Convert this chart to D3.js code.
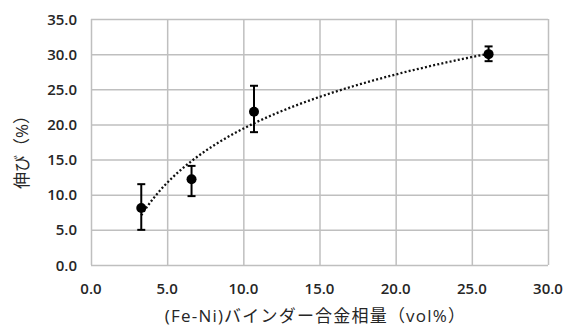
<!DOCTYPE html>
<html>
<head>
<meta charset="utf-8">
<script src="https://cdn.jsdelivr.net/npm/d3@7"></script>
<style>
  body { margin: 0; background: #fff; }
  svg text { font-family: "Open Sans", "Noto Sans CJK JP", sans-serif; fill: #262626; }
  .grid line { stroke: #bfbfbf; stroke-width: 1.5; }
  .grid path { display: none; }
</style>
</head>
<body>
<div id="chart"></div>
<script>
// binder content (vol%) vs elongation (%)
var binderVol = [3.3, 6.6, 10.7, 26.1];
var elongation = [8.1, 12.2, 21.8, 30.0];
var errLow = [5.0, 9.8, 18.9, 29.0];
var errHigh = [11.5, 14.1, 25.5, 31.1];
var xTicks = [0, 5, 10, 15, 20, 25, 30];
var yTicks = [0, 5, 10, 15, 20, 25, 30, 35];

var width = 575, height = 329;
var margin = {top: 19, right: 27, bottom: 64, left: 91};

var svg = d3.select('#chart').append('svg')
    .attr('width', width)
    .attr('height', height);

var x = d3.scaleLinear().domain([0, 30]).range([margin.left, width - margin.right]);
var y = d3.scaleLinear().domain([0, 35]).range([height - margin.bottom, margin.top]);

// gridlines
svg.append('g')
    .attr('class', 'grid')
    .attr('transform', 'translate(0,' + (height - margin.bottom) + ')')
    .call(d3.axisBottom(x).tickValues(xTicks).tickSize(-(height - margin.top - margin.bottom)).tickFormat(''));
svg.append('g')
    .attr('class', 'grid')
    .attr('transform', 'translate(' + margin.left + ',0)')
    .call(d3.axisLeft(y).tickValues(yTicks).tickSize(-(width - margin.left - margin.right)).tickFormat(''));

// tick labels
var fmt = d3.format('.1f');
svg.append('g').selectAll('text')
    .data(xTicks)
  .enter().append('text')
    .attr('x', function(d) { return x(d); })
    .attr('y', height - margin.bottom + 29)
    .attr('text-anchor', 'middle')
    .style('font-size', '15px')
    .style('font-weight', 600)
    .text(fmt);
svg.append('g').selectAll('text')
    .data(yTicks)
  .enter().append('text')
    .attr('x', margin.left - 14)
    .attr('y', function(d) { return y(d) + 5.5; })
    .attr('text-anchor', 'end')
    .style('font-size', '15px')
    .style('font-weight', 600)
    .text(fmt);

// axis titles
svg.append('text')
    .attr('x', (margin.left + width - margin.right) / 2 - 4)
    .attr('y', height - 7)
    .attr('text-anchor', 'middle')
    .style('font-size', '17px')
    .style('letter-spacing', '1.2px')
    .text('(Fe-Ni)バインダー合金相量（vol%）');
svg.append('text')
    .attr('transform', 'translate(28,' + ((margin.top + height - margin.bottom) / 2 + 6) + ') rotate(-90)')
    .attr('text-anchor', 'middle')
    .style('font-size', '17px')
    .text('伸び（%）');

// logarithmic trend line fitted to the points
var lx = binderVol.map(Math.log);
var mx = d3.mean(lx), my = d3.mean(elongation);
var sxy = d3.sum(lx, function(v, i) { return (v - mx) * (elongation[i] - my); });
var sxx = d3.sum(lx, function(v) { return (v - mx) * (v - mx); });
var a = sxy / sxx, b = my - a * mx;
var trendX = d3.range(0, 61).map(function(i) {
  return binderVol[0] + (binderVol[3] - binderVol[0]) * i / 60;
});
svg.append('path')
    .datum(trendX)
    .attr('fill', 'none')
    .attr('stroke', '#111')
    .attr('stroke-width', 2.3)
    .attr('stroke-dasharray', '2,2.2')
    .attr('d', d3.line()
        .x(function(d) { return x(d); })
        .y(function(d) { return y(a * Math.log(d) + b); }));

// error bars
var eb = svg.append('g').selectAll('g')
    .data(binderVol)
  .enter().append('g')
    .attr('stroke', '#000')
    .attr('stroke-width', 2);
eb.append('line')
    .attr('x1', function(d) { return x(d); })
    .attr('x2', function(d) { return x(d); })
    .attr('y1', function(d, i) { return y(errLow[i]); })
    .attr('y2', function(d, i) { return y(errHigh[i]); });
eb.append('line')
    .attr('x1', function(d) { return x(d) - 4; })
    .attr('x2', function(d) { return x(d) + 4; })
    .attr('y1', function(d, i) { return y(errLow[i]); })
    .attr('y2', function(d, i) { return y(errLow[i]); });
eb.append('line')
    .attr('x1', function(d) { return x(d) - 4; })
    .attr('x2', function(d) { return x(d) + 4; })
    .attr('y1', function(d, i) { return y(errHigh[i]); })
    .attr('y2', function(d, i) { return y(errHigh[i]); });

// points
svg.append('g').selectAll('circle')
    .data(binderVol)
  .enter().append('circle')
    .attr('cx', function(d) { return x(d); })
    .attr('cy', function(d, i) { return y(elongation[i]); })
    .attr('r', 5)
    .attr('fill', '#000');
</script>
</body>
</html>
